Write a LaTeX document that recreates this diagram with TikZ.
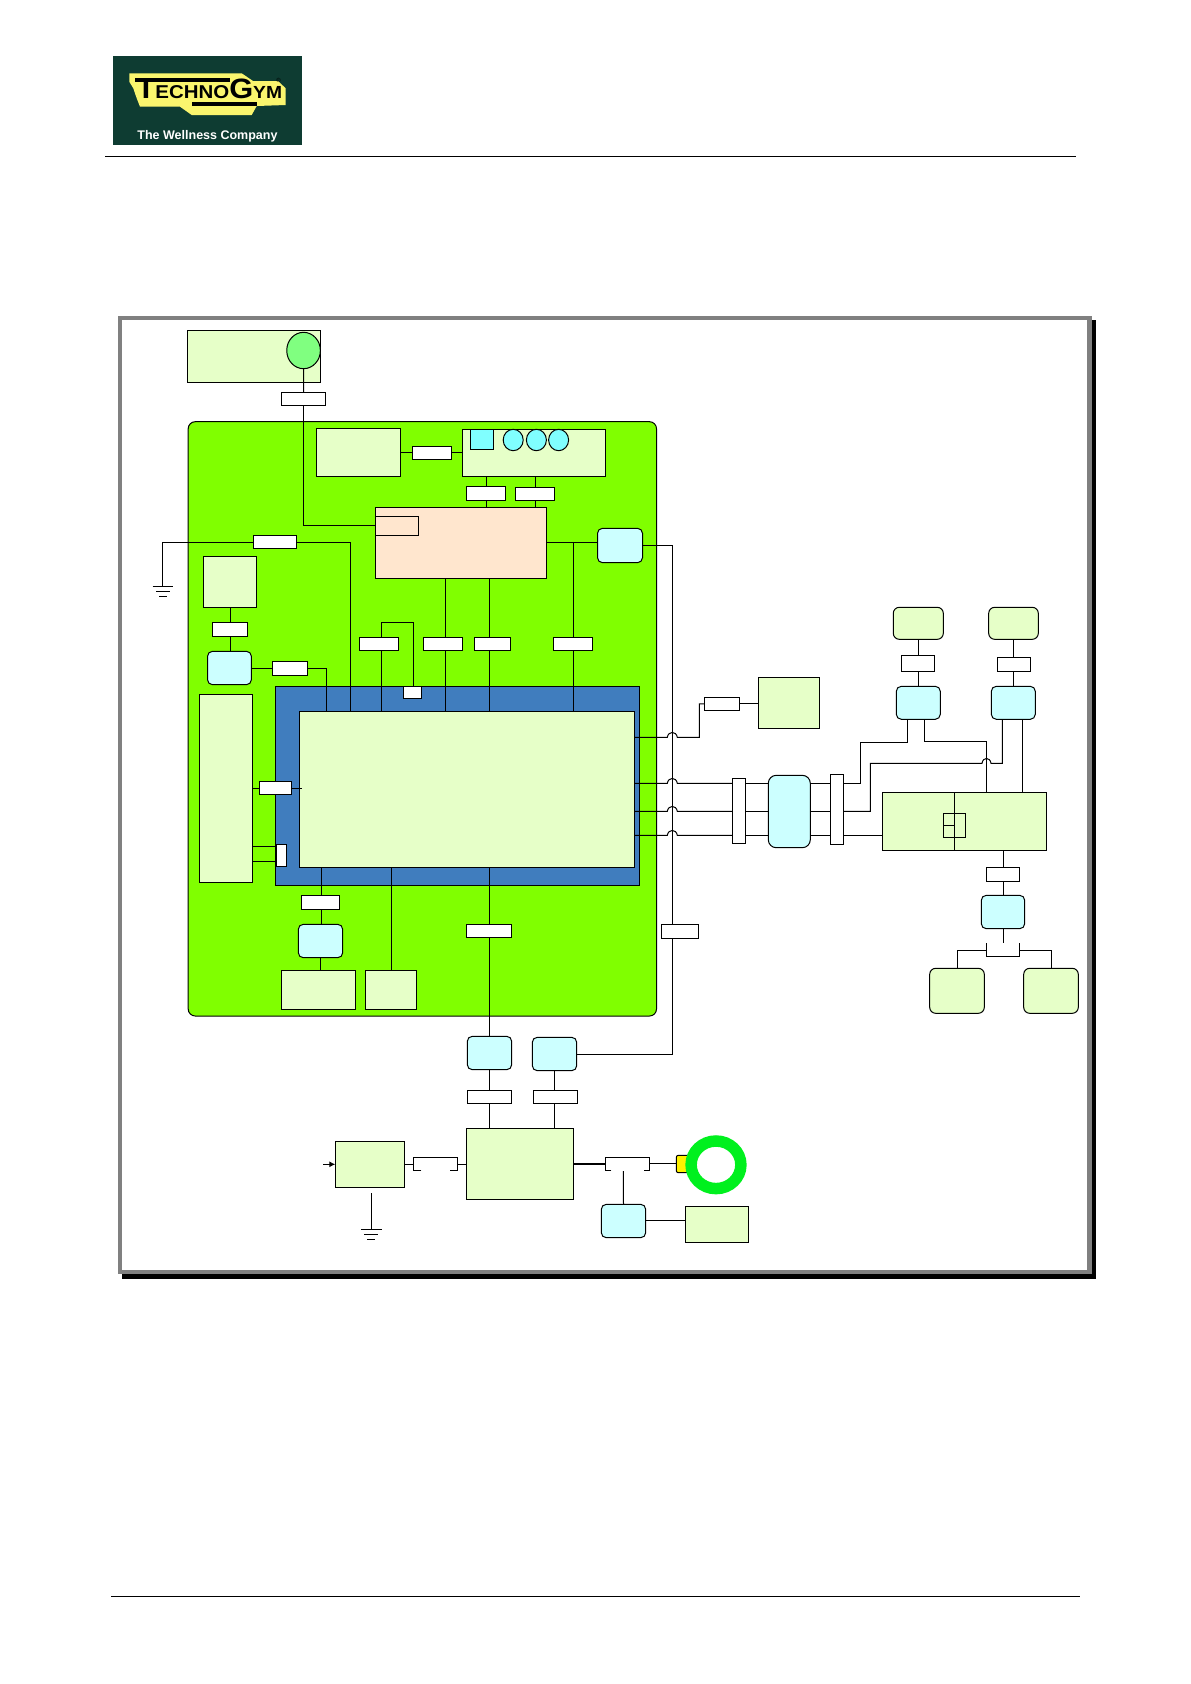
\documentclass[tikz,border=0pt]{standalone}
\usepackage{fontspec}
\setmainfont{Liberation Sans}
\usetikzlibrary{shapes.geometric,arrows.meta}
\pgfdeclarelayer{base}\pgfdeclarelayer{lines}
\pgfsetlayers{base,lines,main}
\definecolor{lgreen}{RGB}{230,255,200}
\definecolor{lcyan}{RGB}{204,255,255}
\definecolor{boardg}{RGB}{128,255,0}
\definecolor{blueb}{RGB}{64,125,190}
\definecolor{peach}{RGB}{255,230,206}
\definecolor{cyanb}{RGB}{128,255,255}
\definecolor{ledg}{RGB}{128,255,128}
\definecolor{ringg}{RGB}{0,240,30}
\definecolor{logog}{RGB}{14,60,50}
\definecolor{logoy}{RGB}{250,245,110}
\definecolor{framegray}{RGB}{128,128,128}
\tikzset{
 x=1pt,y=-1pt,
 every path/.style={line width=1pt},
 rectnode/.style={rectangle,draw=black,inner sep=0pt,outer sep=0pt,line width=1pt},
 module/.style={rectnode,fill=lgreen},
 rmodule/.style={rectnode,fill=lgreen,rounded corners=6pt},
 unitbox/.style={rectnode,fill=lcyan,rounded corners=5pt},
 conn/.style={rectnode,fill=white},
 plainconn/.style={rectangle,inner sep=0pt,outer sep=0pt},
 lamp/.style={ellipse,draw=black,inner sep=0pt,outer sep=0pt,line width=1pt},
 wire/.style={draw=black,line width=1pt},
}
\newcommand\bx[6]{%
 \pgfmathsetmacro\bxw{#5-#3}\pgfmathsetmacro\bxh{#6-#4}%
 \node[#2,minimum width=\bxw pt,minimum height=\bxh pt] (#1) at ({(#3+#5)/2},{(#4+#6)/2}) {};}
\begin{document}
\begin{tikzpicture}
\useasboundingbox (0,0) rectangle (1191,1684);
\begin{pgfonlayer}{base}
\fill[white] (0,0) rectangle (1191,1684);
% page rules
\coordinate (hl) at (105,156);\coordinate (hr) at (1076,156);
\coordinate (fl) at (111,1596);\coordinate (fr) at (1080,1596);
\draw (hl)--(hr); \draw (fl)--(fr);
% logo
\fill[logog] (113,56) rectangle (302,145);
\fill[logoy] (129.3,73.3)--(241.7,73.3)--(253,81)--(278,81)--(285.7,88.3)--(285.7,105)--(256.7,106)--(251.7,115)--(191.7,115)--(180,106.7)--(140,106.7)--(136.7,98.3)--(133.3,88.3)--(129.3,81.7)--cycle;
\fill[black] (135,78) rectangle (230,81.7);
\fill[black] (191.7,102) rectangle (256.7,105.7);
% frame
\fill[black] (122,320) rectangle (1096,1279);
\draw[draw=framegray,fill=white,line width=4.5pt] (120,318) rectangle (1089.5,1272);
% board
\bx{Board}{rectnode,fill=boardg,rounded corners=7pt}{188.2}{421.7}{656.5}{1016}
\bx{H}{rectnode,fill=blueb}{275.3}{686.3}{639.7}{885.3}
\bx{I}{module}{299.3}{711.3}{634.7}{867.3}
\bx{A}{module}{187.5}{330.3}{320.7}{382.3}
\node[lamp,fill=ledg,minimum width=33.6pt,minimum height=36.4pt] (Ac) at (303.55,350.5) {};
\bx{B}{module}{316.4}{428.3}{400.7}{476.3}
\bx{C}{module}{462.5}{429.3}{605.7}{476.3}
\bx{Csq}{rectnode,fill=cyanb}{470.4}{429.3}{493.6}{449.3}
\node[lamp,fill=cyanb,minimum width=20pt,minimum height=21.4pt] (Cc1) at (513.2,440) {};
\node[lamp,fill=cyanb,minimum width=20pt,minimum height=21.4pt] (Cc2) at (536.4,440) {};
\node[lamp,fill=cyanb,minimum width=20pt,minimum height=21.4pt] (Cc3) at (558.6,440) {};
\bx{D}{rectnode,fill=peach}{375.4}{507.3}{546.4}{578.3}
\bx{Dsub}{rectnode,fill=peach}{375.7}{516.3}{418.2}{535.3}
\bx{E}{unitbox}{597.5}{528.3}{642.5}{562.7}
\bx{F}{module}{203.2}{556.3}{256.8}{607.3}
\bx{G}{unitbox}{207.5}{651.3}{251.4}{684.7}
\bx{J}{module}{199.3}{694.3}{252.7}{882.3}
\bx{K}{unitbox}{298.3}{924.3}{342.7}{957.7}
\bx{L}{module}{281.3}{970.3}{355.7}{1009.3}
\bx{M}{module}{365.3}{970.3}{416.7}{1009.3}
\bx{N}{unitbox}{467.3}{1036.3}{511.7}{1069.7}
\bx{NN}{unitbox}{532.3}{1037.3}{576.7}{1070.7}
\bx{O}{module}{758.3}{677.3}{819.7}{728.3}
\bx{Q}{rectnode,fill=lcyan,rounded corners=8pt}{768.3}{775.3}{810.3}{847.7}
\bx{S}{module}{882.3}{792.3}{1046.7}{850.3}
\bx{Ssub}{rectnode}{943.3}{813.3}{965.7}{837.7}
\bx{T}{unitbox}{896.3}{686.3}{940.3}{719.3}
\bx{U}{unitbox}{991.3}{686.3}{1035.3}{719.3}
\bx{V}{rmodule}{893.3}{607.3}{943.3}{639.3}
\bx{W}{rmodule}{988.7}{607.3}{1038.3}{639.3}
\bx{X}{unitbox}{981.3}{895.3}{1024.7}{928.7}
\bx{Y}{rmodule}{929.7}{968.3}{984.3}{1013.3}
\bx{Z}{rmodule}{1023.7}{968.3}{1078.3}{1013.3}
\bx{AA}{module}{466.3}{1128.3}{573.7}{1199.3}
\bx{AB}{module}{335.3}{1141.3}{404.7}{1187.3}
\bx{AC}{unitbox}{601.3}{1204.3}{645.7}{1237.7}
\bx{AD}{module}{685.3}{1206.3}{748.7}{1242.3}
\bx{Yel}{rectnode,fill=yellow,rounded corners=2pt}{676.3}{1155.3}{692}{1172.7}
\end{pgfonlayer}
% connectors (white boxes on the wires)
\bx{cA}{conn}{281.4}{392.3}{325.7}{405.7}
\bx{cB}{conn}{412.5}{446.3}{451.8}{459.3}
\bx{cC}{conn}{466.4}{486.3}{505.7}{500.3}
\bx{cD}{conn}{515.4}{487.3}{554.6}{500.3}
\bx{cE}{conn}{253.2}{535.3}{296.8}{548.7}
\bx{cF}{conn}{212.5}{622.3}{247.5}{636.7}
\bx{cG}{conn}{272.5}{661.3}{307.5}{675.3}
\bx{cH}{conn}{359.3}{637.3}{398.6}{650.7}
\bx{cI}{conn}{423.2}{637.3}{462.5}{650.7}
\bx{cJ}{conn}{474.3}{637.3}{510.7}{650.7}
\bx{cK}{conn}{553.2}{637.3}{592.5}{650.7}
\bx{cL}{conn}{403.2}{686.7}{421.4}{698.3}
\bx{cM}{conn}{259.3}{781.3}{291.7}{794.7}
\bx{cN}{conn}{276.3}{844.3}{286.7}{866.7}
\bx{cO}{conn}{301.3}{895.3}{339.7}{909.7}
\bx{cP}{conn}{466.3}{924.3}{511.7}{937.7}
\bx{cQ}{conn}{661.3}{924.3}{698.7}{938.3}
\bx{cR}{conn}{704.3}{697.3}{739.7}{710.3}
\bx{cS}{conn}{732.3}{778.3}{745.7}{843.3}
\bx{cT}{conn}{830.3}{774.3}{843.7}{844.3}
\bx{cU}{conn}{901.3}{655.3}{934.7}{671.3}
\bx{cV}{conn}{997.3}{657.3}{1030.7}{671.3}
\bx{cW}{conn}{986.3}{867.3}{1019.7}{881.7}
\bx{cX}{conn}{467.3}{1090.3}{511.7}{1103.3}
\bx{cY}{conn}{533.3}{1090.3}{577.7}{1103.3}
\bx{brA}{plainconn}{413.3}{1157.3}{457.7}{1170.7}
\bx{brB}{plainconn}{605.3}{1157.3}{649.7}{1170.7}
\bx{brC}{plainconn}{986.3}{943.3}{1019.7}{956.7}
\draw (brA.south west)++(8,0)--(brA.south west)--(brA.north west)--(brA.north east)--(brA.south east)--++(-8,0);
\draw (brB.south west)++(6,0)--(brB.south west)--(brB.north west)--(brB.north east)--(brB.south east)--++(-6,0);
\draw (brC.north west)--(brC.south west)--(brC.south east)--(brC.north east);
\node[ellipse,draw=ringg,fill=white,line width=11.5pt,inner sep=0pt,outer sep=0pt,minimum width=49.8pt,minimum height=47.6pt] (Ring) at (716,1164.8) {};
% logo text
\node[inner sep=0pt,anchor=base west,text=black,transform shape,xscale=1.1,font=\bfseries\fontsize{18.6}{18.6}\selectfont] (logoname) at (136,98.3) {{\fontsize{28}{28}\selectfont T}ECHNO{\fontsize{28}{28}\selectfont G}{\fontsize{17.5}{17.5}\selectfont YM}};
\node[inner sep=0pt,text=black,font=\fontsize{6}{6}\selectfont] (logoreg) at (278.5,80.7) {®};
\node[inner sep=0pt,anchor=base,text=white,font=\bfseries\fontsize{12.5}{12.5}\selectfont] (logotag) at (207.5,139.3) {The Wellness Company};
% coordinates used by wires
\coordinate (xtr) at (672.3,0);
\coordinate (x350) at (350.7,0);\coordinate (x326) at (326.4,0);
\coordinate (x381) at (381.4,0);\coordinate (x413) at (413.6,0);
\coordinate (x445) at (445.4,0);\coordinate (x489) at (489.3,0);
\coordinate (x573) at (573.2,0);\coordinate (x321) at (321.3,0);
\coordinate (x320) at (320.3,0);\coordinate (x554) at (554.3,0);
\coordinate (x1003) at (1003.3,0);
\coordinate (x860) at (860.3,0);\coordinate (x870) at (870.3,0);
\coordinate (x907) at (907.3,0);\coordinate (x924) at (924.3,0);
\coordinate (x987) at (986.7,0);\coordinate (x1002) at (1002.3,0);\coordinate (x1022) at (1022.3,0);
\coordinate (x699) at (699.3,0);
\coordinate (y622) at (0,622.7);\coordinate (y846) at (0,846.3);\coordinate (y861) at (0,861.3);
\coordinate (yA) at (0,737.3);\coordinate (yB) at (0,783.3);\coordinate (yC) at (0,811.3);\coordinate (yD) at (0,835.3);
\coordinate (y742) at (0,742.3);\coordinate (y741) at (0,741.3);\coordinate (y763) at (0,763.3);
\coordinate (y1163) at (0,1163.7);\coordinate (y1164) at (0,1164.3);
\coordinate (g1) at (162.5,586);
\coordinate (g2) at (371.3,1229.3);\coordinate (g2t) at (371.3,1193);
\coordinate (inp) at (323,1164.3);
\coordinate (brTop) at (623.3,1171);
\begin{pgfonlayer}{lines}
\draw[wire] (Ac.south)--(cA.north);
\draw[wire] (cA.south)|-(Dsub.west);
\draw[wire] (cB.west-|B.east)--(cB.west);
\draw[wire] (cB.east)--(cB.east-|C.west);
\draw[wire] (cC.north|-C.south)--(cC.north);
\draw[wire] (cC.south)--(cC.south|-D.north);
\draw[wire] (cD.north|-C.south)--(cD.north);
\draw[wire] (cD.south)--(cD.south|-D.north);
\draw[wire] (D.east)--(D.east-|E.west);
\draw[wire] (E.east)-|(xtr|-NN.east)--(NN.east);
\draw[wire] (x573|-D.east)--(x573|-I.north);
\draw[wire] (cE.west)-|(g1);
\draw[wire] (cE.east)-|(x350|-I.north);
\draw (g1)++(-10,0)--++(20,0) (g1)++(-6.5,5.3)--++(13.5,0) (g1)++(-3.5,10.3)--++(8,0);
\draw[wire] (cF.north|-F.south)--(cF.north);
\draw[wire] (cF.south)--(cF.south|-G.north);
\draw[wire] (G.east|-cG.west)--(cG.west);
\draw[wire] (cG.east)-|(x326|-I.north);
\draw[wire] (x381|-I.north)--(x381|-y622)-|(x413|-cL.north);
\draw[wire] (x445|-D.south)--(x445|-I.north);
\draw[wire] (x489|-D.south)--(x489|-I.north);
\draw[wire] (J.east|-cM.west)--(cM.west);
\draw[wire] (cM.east)--++(10.3,0);
\draw[wire] (J.east|-y846)--(cN.west|-y846);
\draw[wire] (J.east|-y861)--(cN.west|-y861);
\draw[wire] (x321|-I.south)--(x321|-K.north);
\draw[wire] (x320|-K.south)--(x320|-L.north);
\draw[wire] (M.north|-I.south)--(M.north);
\draw[wire] (N.north|-I.south)--(N.north);
\draw[wire] (x489|-N.south)--(x489|-AA.north);
\draw[wire] (x554|-NN.south)--(x554|-AA.north);
% wires hopping over the trunk
\draw[wire] (I.east|-yA)--++(32.6,0) .. controls +(1,-6.5) and +(-1,-6.5) .. ++(10,0)-|(x699|-cR.west)--(cR.west);
\draw[wire] (cR.east)--(cR.east-|O.west);
\draw[wire] (I.east|-yB)--++(32.6,0) .. controls +(1,-6.5) and +(-1,-6.5) .. ++(10,0)--(cS.west|-yB);
\draw[wire] (I.east|-yC)--++(32.6,0) .. controls +(1,-6.5) and +(-1,-6.5) .. ++(10,0)--(cS.west|-yC);
\draw[wire] (I.east|-yD)--++(32.6,0) .. controls +(1,-6.5) and +(-1,-6.5) .. ++(10,0)--(cS.west|-yD);
\draw[wire] (cS.east|-yB)--(Q.west|-yB);\draw[wire] (cS.east|-yC)--(Q.west|-yC);\draw[wire] (cS.east|-yD)--(Q.west|-yD);
\draw[wire] (Q.east|-yB)--(cT.west|-yB);\draw[wire] (Q.east|-yC)--(cT.west|-yC);\draw[wire] (Q.east|-yD)--(cT.west|-yD);
\draw[wire] (cT.east|-yB)-|(x860|-y742)-|(x907|-T.south);
\draw[wire] (x924|-T.south)|-(x987|-y741)--(x987|-S.north);
\draw[wire] (cT.east|-yC)-|(x870|-y763)--(982,763.3) .. controls +(1,-6.5) and +(-1,-6.5) .. ++(9,0)-|(x1002|-U.south);
\draw[wire] (x1022|-U.south)--(x1022|-S.north);
\draw[wire] (cT.east|-yD)--(S.west|-yD);
\draw (954.3,792.3)--(954.3,850.3) (Ssub.west)--(Ssub.center);
\draw[wire] (T.north)--(T.north|-cU.south);
\draw[wire] (V.south)--(V.south|-cU.north);
\draw[wire] (W.south)--(W.south|-cV.north);
\draw[wire] (U.north)--(U.north|-cV.south);
\draw[wire] (x1003|-S.south)--(x1003|-X.north);
\draw[wire] (X.south)--++(0,14);
\draw[wire] (brC.west)-|(Y.north);
\draw[wire] (brC.east)-|(Z.north);
\draw[wire] (AB.east|-y1164)--(brA.west|-y1164);
\draw[wire] (brA.east|-y1164)--(AA.west|-y1164);
\draw[wire,-{Latex[length=6pt,width=6pt]}] (inp)--(AB.west|-inp);
\draw[wire] (g2t)--(g2);
\draw (g2)++(-10.3,0)--++(21,0) (g2)++(-7,5.4)--++(14,0) (g2)++(-4,10)--++(7.7,0);
\draw[draw=black,line width=2pt] (AA.east|-y1163)--(brB.west|-y1163);
\draw[wire] (brB.east|-y1163)--(Yel.west|-y1163);
\draw[wire] (brTop)--(AC.north);
\draw[wire] (AC.east|-AD.west)++(0,-3.5)--++(39.6,0);
\end{pgfonlayer}
\end{tikzpicture}
\end{document}
